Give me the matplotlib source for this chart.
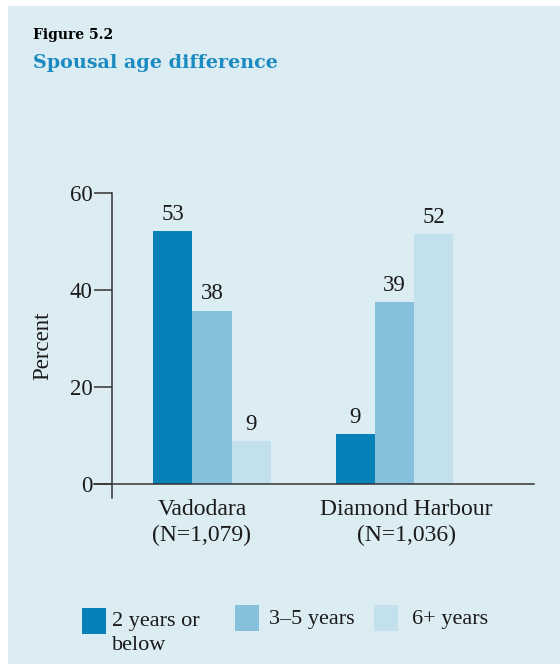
import matplotlib.pyplot as plt
from matplotlib.patches import Rectangle

BG = "#DBECF3"
DARK = "#0880B8"
MID = "#86C0DC"
LIGHT = "#C3E0ED"
BLUE_TITLE = "#1A8AC0"
INK = "#1A1A1A"
AXIS = "#333333"

# data
groups = ["Vadodara\n(N=1,079)", "Diamond Harbour\n(N=1,036)"]
series = ["2 years or\nbelow", "3\u20135 years", "6+ years"]
bar_heights = [
    [52.1, 10.4],  # 2 years or below
    [35.8, 37.5],  # 3-5 years
    [9.0, 51.6],  # 6+ years
]
value_labels = [
    ["53", "9"],
    ["38", "39"],
    ["9", "52"],
]
colors = [DARK, MID, LIGHT]

W, H = 560, 664
fig = plt.figure(figsize=(W / 100, H / 100), dpi=100)
fig.patch.set_facecolor("white")
fig.patches.append(
    Rectangle((8 / W, 0), 1 - 8 / W, 1 - 6 / H, transform=fig.transFigure,
              fc=BG, ec="none", zorder=-5)
)

serif = "Liberation Serif"

fig.text(33 / W, 1 - 39 / H, "Figure 5.2", family="DejaVu Serif",
         fontweight="bold", fontsize=10, color="black", va="baseline")
fig.text(33 / W, 1 - 68 / H, "Spousal age difference", family="DejaVu Serif",
         fontweight="bold", fontsize=13.8, color=BLUE_TITLE, va="baseline")

# axes box in pixels: x 112..534, y 193..498
ax = fig.add_axes([112 / W, 1 - 498 / H, (534 - 112) / W, (498 - 193) / H])
ax.set_facecolor("none")

bw = 0.215
x = [0, 1]
for i, (hs, labs) in enumerate(zip(bar_heights, value_labels)):
    pos = [xx + (i - 1) * bw for xx in x]
    bars = ax.bar(pos, hs, width=bw, color=colors[i], zorder=2)
    for b, lab in zip(bars, labs):
        ax.annotate(lab, (b.get_x() + b.get_width() / 2, b.get_height()),
                    xytext=(0, 8), textcoords="offset points",
                    ha="center", va="baseline", family=serif,
                    fontsize=16.5, color=INK)

ax.set_xlim(-0.548, 1.764)
ax.set_ylim(-2.8, 60)

for s in ["top", "right", "bottom"]:
    ax.spines[s].set_visible(False)
ax.spines["left"].set_color(AXIS)
ax.spines["left"].set_linewidth(1.1)
ax.spines["left"].set_bounds(-2.8, 60)

# baseline running past the y-axis
ax.axhline(0, xmin=-18 / 422, xmax=1, color=AXIS, lw=1.1, clip_on=False, zorder=3)

ax.set_yticks([0, 20, 40, 60])
ax.tick_params(axis="y", length=13, width=1.1, color=AXIS, pad=1,
               labelsize=16.5, labelcolor=INK)
for t in ax.get_yticklabels():
    t.set_family(serif)

ax.set_xticks([-0.055, 1.063])
ax.set_xticklabels(groups, family=serif, fontsize=17, color=INK, linespacing=1.3)
ax.tick_params(axis="x", length=0, pad=1)

ax.set_ylabel("Percent", family=serif, fontsize=16.5, color=INK, labelpad=12)

# legend drawn by hand
sq = [(82, 608), (235, 605), (374, 605)]
txt_x = [112, 269, 412]
for i in range(3):
    sx, sy = sq[i]
    fig.patches.append(
        Rectangle((sx / W, 1 - (sy + 26) / H), 24 / W, 26 / H,
                  transform=fig.transFigure, fc=colors[i], ec="none")
    )
    fig.text(txt_x[i] / W, 1 - (612 if i == 0 else 610) / H, series[i],
             family=serif, fontsize=16, color=INK, va="top", linespacing=1.35)

fig.savefig("out.png", dpi=100, facecolor=fig.get_facecolor())
